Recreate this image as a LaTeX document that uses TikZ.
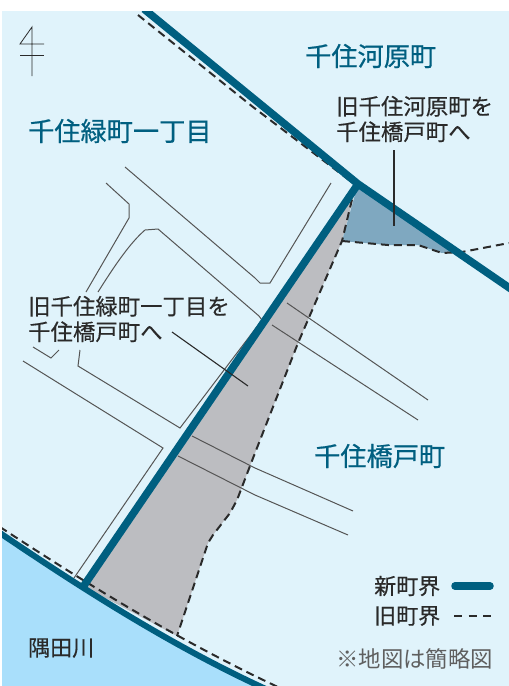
\documentclass[tikz,border=0pt]{standalone}
\usepackage{fontspec}
\setmainfont{Noto Sans CJK JP}
\newfontfamily\heavyf[RawFeature={embolden=0.6}]{Noto Sans CJK JP}
\newfontfamily\midf[RawFeature={embolden=0.3}]{Noto Sans CJK JP}
\definecolor{landc}{HTML}{E0F3FB}
\definecolor{riverc}{HTML}{A9DFFB}
\definecolor{tealc}{HTML}{005F80}
\definecolor{grayc}{HTML}{BCBDC1}
\definecolor{bluegc}{HTML}{7FA8C0}
\definecolor{inkc}{HTML}{2A2A2A}
\tikzset{
  newb/.style={draw=tealc,line width=7.6pt},
  oldb/.style={draw=inkc,line width=2pt,dash pattern=on 8pt off 5pt},
  road/.style={draw=inkc!80!white,line width=1pt},
  lead/.style={draw=inkc,line width=1.1pt},
  area/.style={text=tealc,font=\heavyf\fontsize{26.2}{30}\selectfont,inner sep=0pt,anchor=west},
  note/.style={text=inkc,font=\midf\fontsize{22.4}{25.5}\selectfont,inner sep=0pt,anchor=west,align=left},
  small/.style={text=inkc,font=\midf\fontsize{22}{25}\selectfont,inner sep=0pt,anchor=west},
}
\begin{document}
\begin{tikzpicture}[x=1pt,y=-1pt]
\useasboundingbox (0,0) rectangle (509,686);
\fill[white] (0,0) rectangle (509,686);
\begin{scope}
\clip (2,11) rectangle (509,686);
\fill[landc] (2,11) rectangle (509,686);
\fill[riverc] (0,533) .. controls (90,594) and (178,649) .. (268,690) -- (0,690) -- cycle;
% shaded parcels
\fill[grayc] (357,184) -- (342,241) -- (298,343) -- (255,453) -- (250,466) -- (237,500) -- (230,513) -- (213,535) -- (208,543) -- (177,636) -- (83,586) -- cycle;
\fill[bluegc] (358,184) -- (342,241) -- (388,245) -- (418,245) -- (442,253) -- (462,252) -- cycle;
% roads
\draw[road] (125,167) -- (255,278) -- (260,283) -- (270,283) -- (331,183);
\draw[road] (106,183) -- (129,204) -- (129,218) -- (86,292);
\draw[road] (98,292) .. controls (115,265) and (130,243) .. (145,230) -- (158,229) -- (259,316) -- (262,320) -- (180,428) -- (78,366) -- (80,350);
\draw[road] (33,347) -- (51,358) -- (59,350);
\draw[road] (23,361) -- (163,448) -- (74,578);
\draw[road] (287,303) -- (428,400);
\draw[road] (272,325) -- (418,420);
\draw[road] (192,436) -- (255,468) -- (353,511);
\draw[road] (178,456) -- (255,495) -- (348,535);
% old boundaries
\draw[oldb] (138,15) -- (253,107) -- (353,183);
\draw[oldb] (355,187) -- (342,241) -- (298,343) -- (255,453) -- (250,466) -- (237,500) -- (230,513) -- (213,535) -- (208,543) -- (177,636);
\draw[oldb] (342,241) -- (388,245) -- (418,245) -- (442,253) -- (462,252) -- (509,243);
\draw[oldb] (0,527) .. controls (90,586) and (178,640) .. (280,688);
% new boundaries
\draw[newb] (144,9) -- (358,184) -- (511,289);
\draw[newb] (358,184) -- (83,587);
\draw[draw=tealc,line width=6pt] (0,533) .. controls (90,594) and (178,649) .. (268,690);
\end{scope}
% north mark
\coordinate (ntop) at (32,27);
\coordinate (nbot) at (32,76);
\coordinate (nleft) at (20,44);
\coordinate (nright) at (44,44);
\coordinate (nleftb) at (20,55);
\coordinate (nrightb) at (44,55);
\draw[lead,line width=.8pt] (nbot) -- (ntop) -- (nleft) -- (nright);
\draw[lead,line width=.8pt] (nleftb) -- (nrightb);
% area names
\node[area] (midori) at (28,131) {千住緑町一丁目};
\node[area] (kawara) at (305,56) {千住河原町};
\node[area] (hashido) at (314,456) {千住橋戸町};
% notes
\node[note] (noteA) at (336,119) {旧千住河原町を\\千住橋戸町へ};
\node[note] (noteB) at (28,319) {旧千住緑町一丁目を\\千住橋戸町へ};
\coordinate (la1) at (394,150);
\coordinate (la2) at (394,226);
\coordinate (lb1) at (172,332);
\coordinate (lb2) at (248,386);
\draw[lead] (la1) -- (la2);
\draw[lead] (lb1) -- (lb2);
% river
\node[small] (river) at (28,648) {隅田川};
% legend
\node[small] (lnew) at (374,586) {新町界};
\node[small] (lold) at (374,616) {旧町界};
\coordinate (ln1) at (455,586);
\coordinate (ln2) at (490,586);
\coordinate (lo1) at (454,616);
\coordinate (lo2) at (491,616);
\draw[draw=tealc,line width=7.5pt,line cap=round] (ln1) -- (ln2);
\draw[draw=inkc,line width=1.5pt,dash pattern=on 8pt off 6.5pt] (lo1) -- (lo2);
\node[small,text=inkc!75!white,font=\fontsize{22.4}{25}\selectfont] (cap) at (336,659) {※地図は簡略図};
\end{tikzpicture}
\end{document}
